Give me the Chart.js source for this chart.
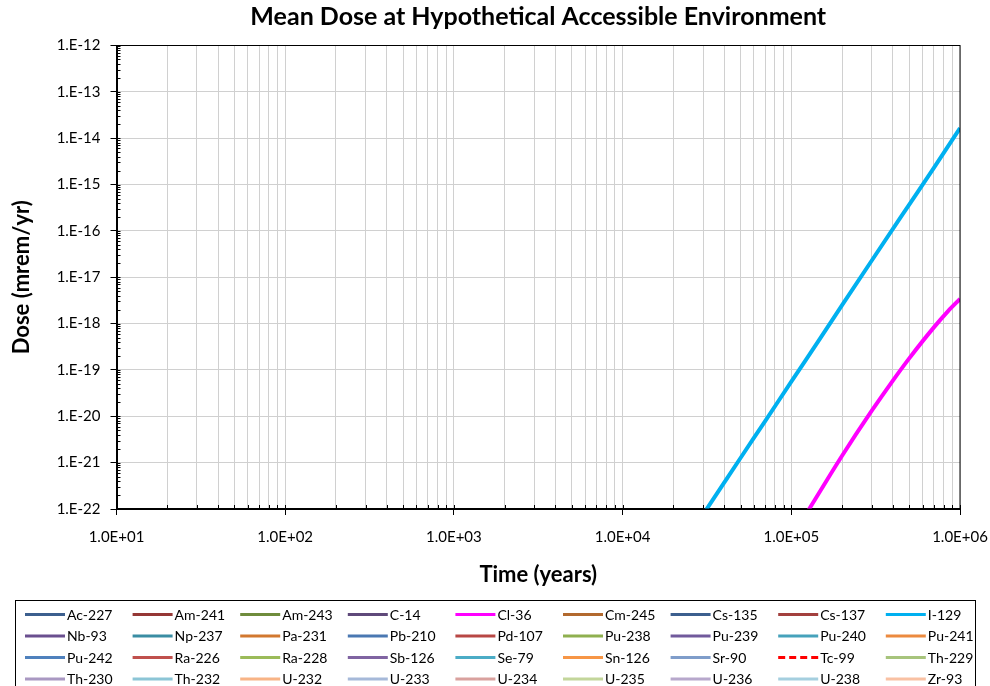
<!DOCTYPE html>
<html>
<head>
    <title>Mean Dose at Hypothetical Accessible Environment</title>
    <script src="https://cdn.jsdelivr.net/npm/chart.js"></script>
    <style>
        body { margin: 0; background: #fff; }
        #wrap { width: 990px; height: 686px; position: relative; }
    </style>
</head>
<body>
<div id="wrap"><canvas id="doseChart"></canvas></div>
<script>
    const chartTitle = 'Mean Dose at Hypothetical Accessible Environment';

    // nuclides in legend order (row by row)
    const nuclides = [
        'Ac-227', 'Am-241', 'Am-243', 'C-14', 'Cl-36', 'Cm-245', 'Cs-135', 'Cs-137', 'I-129',
        'Nb-93', 'Np-237', 'Pa-231', 'Pb-210', 'Pd-107', 'Pu-238', 'Pu-239', 'Pu-240', 'Pu-241',
        'Pu-242', 'Ra-226', 'Ra-228', 'Sb-126', 'Se-79', 'Sn-126', 'Sr-90', 'Tc-99', 'Th-229',
        'Th-230', 'Th-232', 'U-232', 'U-233', 'U-234', 'U-235', 'U-236', 'U-238', 'Zr-93'
    ];
    const nuclideColors = [
        '#3c5f8e', '#953735', '#6f8c3c', '#5f497a', '#ff00ff', '#b2692e', '#3c5f8e', '#a3403e', '#00b0f0',
        '#6a4f8f', '#3a8da3', '#d2782f', '#4a78b2', '#b84744', '#8fb04f', '#715a9c', '#46a2bb', '#ec8a3f',
        '#4f81bd', '#c0504d', '#9bbb59', '#8064a2', '#4bacc6', '#f79646', '#7f9dca', '#ff0000', '#a7c47c',
        '#a998c2', '#8cc5d6', '#f8b486', '#a6b9d9', '#d9a19e', '#c3d69b', '#b7a8cc', '#a5cfdf', '#f9c1a3'
    ];

    // only I-129 and Cl-36 rise above 1E-22 mrem/yr
    const i129Years = [3.0e4, 4.0e4, 5.0e4, 7.0e4, 1.0e5, 1.5e5, 2.0e5, 3.0e5, 5.0e5, 7.0e5, 1.0e6];
    const i129Dose = [7.6e-23, 3.7e-22, 1.26e-21, 7.9e-21, 5.6e-20, 5.1e-19, 2.5e-18, 2.3e-17, 3.7e-16, 2.3e-15, 1.66e-14];

    const cl36Years = [1.2e5, 1.5e5, 2.0e5, 3.0e5, 4.0e5, 5.0e5, 7.0e5, 8.5e5, 1.0e6];
    const cl36Dose = [6.9e-23, 2.6e-22, 1.41e-21, 1.32e-20, 5.9e-20, 1.78e-19, 8.3e-19, 1.86e-18, 3.4e-18];

    const xTickValues = [1e1, 1e2, 1e3, 1e4, 1e5, 1e6];
    const xTickLabels = ['1.0E+01', '1.0E+02', '1.0E+03', '1.0E+04', '1.0E+05', '1.0E+06'];
    const yTickValues = [1e-22, 1e-21, 1e-20, 1e-19, 1e-18, 1e-17, 1e-16, 1e-15, 1e-14, 1e-13, 1e-12];
    const yTickLabels = ['1.E-22', '1.E-21', '1.E-20', '1.E-19', '1.E-18', '1.E-17', '1.E-16', '1.E-15', '1.E-14', '1.E-13', '1.E-12'];

    const FONT = 'Lato, "Open Sans", sans-serif';

    function isMajor(v) {
        const l = Math.log10(v);
        return Math.abs(l - Math.round(l)) < 1e-9;
    }

    function logTicks(majors) {
        const out = [];
        majors.forEach((m, i) => {
            out.push({ value: m, major: true });
            if (i < majors.length - 1) {
                for (let k = 2; k <= 9; k++) out.push({ value: m * k, major: false });
            }
        });
        return out;
    }

    function seriesData(name) {
        if (name === 'I-129') return i129Years.map((t, i) => ({ x: t, y: i129Dose[i] }));
        if (name === 'Cl-36') return cl36Years.map((t, i) => ({ x: t, y: cl36Dose[i] }));
        return [];
    }

    const datasets = nuclides.map((name, i) => ({
        label: name,
        data: seriesData(name),
        borderColor: nuclideColors[i],
        backgroundColor: nuclideColors[i],
        borderWidth: (name === 'I-129' || name === 'Cl-36') ? 4 : 3,
        borderDash: name === 'Tc-99' ? [7, 4] : [],
        pointRadius: 0,
        fill: false,
        cubicInterpolationMode: 'monotone'
    }));

    // title over the plot area, plot frame, inside tick marks and the boxed legend grid
    const extrasPlugin = {
        id: 'extras',
        afterDraw(chart) {
            const ctx = chart.ctx;
            const a = chart.chartArea;
            const xs = chart.scales.x, ys = chart.scales.y;
            ctx.save();

            ctx.fillStyle = '#000';
            ctx.font = 'bold 25px ' + FONT;
            ctx.textAlign = 'center';
            ctx.textBaseline = 'middle';
            ctx.fillText(chartTitle, (a.left + a.right) / 2, 17);

            ctx.strokeStyle = '#000';
            ctx.lineWidth = 1;
            ctx.strokeRect(a.left, a.top, a.right - a.left, a.bottom - a.top);

            xs.ticks.forEach(t => {
                const px = Math.round(xs.getPixelForValue(t.value)) + 0.5;
                ctx.beginPath();
                ctx.moveTo(px, a.bottom);
                ctx.lineTo(px, a.bottom - 4);
                ctx.stroke();
            });
            ys.ticks.forEach(t => {
                const py = Math.round(ys.getPixelForValue(t.value)) + 0.5;
                ctx.beginPath();
                ctx.moveTo(a.left, py);
                ctx.lineTo(a.left + 4, py);
                ctx.stroke();
            });

            // legend
            ctx.strokeRect(15.5, 600.5, 960, 100);
            ctx.font = '14px ' + FONT;
            ctx.textBaseline = 'middle';
            ctx.textAlign = 'left';
            chart.data.datasets.forEach((ds, i) => {
                const col = i % 9, row = Math.floor(i / 9);
                const x0 = 25 + col * 107.6;
                const y0 = 614.5 + row * 21.5;
                ctx.beginPath();
                ctx.strokeStyle = ds.borderColor;
                ctx.lineWidth = 3;
                ctx.setLineDash(ds.borderDash || []);
                ctx.moveTo(x0, y0);
                ctx.lineTo(x0 + 40, y0);
                ctx.stroke();
                ctx.setLineDash([]);
                ctx.fillStyle = '#000';
                ctx.fillText(ds.label, x0 + 42, y0 + 0.5);
            });
            ctx.restore();
        }
    };

    new Chart(document.getElementById('doseChart'), {
        type: 'line',
        data: { datasets: datasets },
        plugins: [extrasPlugin],
        options: {
            responsive: true,
            maintainAspectRatio: false,
            animation: false,
            layout: { padding: { left: 0, right: 30, top: 45.5, bottom: 98 } },
            plugins: {
                legend: { display: false },
                tooltip: { enabled: false },
                title: { display: false }
            },
            scales: {
                x: {
                    type: 'logarithmic',
                    min: 10,
                    max: 1e6,
                    afterBuildTicks: scale => { scale.ticks = logTicks(xTickValues); },
                    afterFit: scale => {
                        scale.height = 79;
                        scale.paddingLeft = 0;
                        scale.paddingRight = 0;
                    },
                    border: { color: '#000', width: 2 },
                    grid: {
                        color: '#d0d0d0',
                        lineWidth: 1,
                        drawTicks: true,
                        tickLength: 6,
                        tickColor: c => isMajor(c.tick.value) ? '#000' : 'rgba(0,0,0,0)'
                    },
                    ticks: {
                        autoSkip: false,
                        maxRotation: 0,
                        color: '#000',
                        padding: 13,
                        font: { family: FONT, size: 15 },
                        callback: v => {
                            const i = xTickValues.findIndex(m => Math.abs(m - v) / m < 1e-9);
                            return i >= 0 ? xTickLabels[i] : '';
                        }
                    },
                    title: {
                        display: true,
                        text: 'Time (years)',
                        color: '#000',
                        font: { family: FONT, size: 22, weight: 'bold', lineHeight: 1.2 },
                        padding: { top: 0, bottom: 0 }
                    }
                },
                y: {
                    type: 'logarithmic',
                    min: 1e-22,
                    max: 1e-12,
                    afterBuildTicks: scale => { scale.ticks = logTicks(yTickValues); },
                    afterFit: scale => {
                        scale.width = 116.5;
                        scale.paddingTop = 0;
                        scale.paddingBottom = 0;
                    },
                    border: { color: '#000', width: 2 },
                    grid: {
                        color: c => isMajor(c.tick.value) ? '#d0d0d0' : 'rgba(0,0,0,0)',
                        lineWidth: 1,
                        drawTicks: true,
                        tickLength: 6,
                        tickColor: c => isMajor(c.tick.value) ? '#000' : 'rgba(0,0,0,0)'
                    },
                    ticks: {
                        autoSkip: false,
                        color: '#000',
                        padding: 10,
                        font: { family: FONT, size: 15 },
                        callback: v => {
                            const i = yTickValues.findIndex(m => Math.abs(m - v) / m < 1e-9);
                            return i >= 0 ? yTickLabels[i] : '';
                        }
                    },
                    title: {
                        display: true,
                        text: 'Dose (mrem/yr)',
                        color: '#000',
                        font: { family: FONT, size: 22, weight: 'bold', lineHeight: 1.2 },
                        padding: { top: 9, bottom: 0 }
                    }
                }
            }
        }
    });
</script>
</body>
</html>
